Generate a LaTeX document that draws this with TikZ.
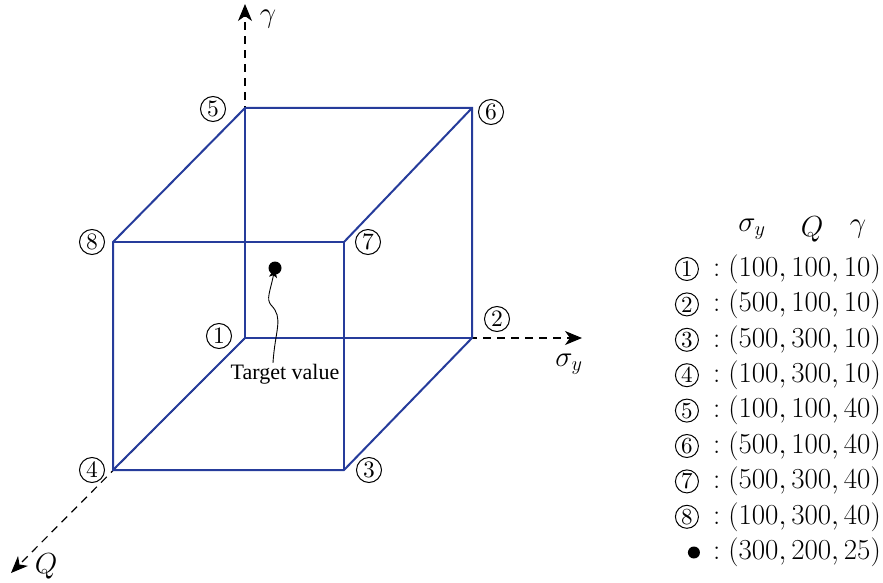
\RequirePackage{fix-cm}
\documentclass[tikz,border=0pt]{standalone}
\usepackage{fontspec}
\setmainfont{lmroman10-regular}[Extension=.otf]
\newfontfamily\timesf{Liberation Serif}
\usetikzlibrary{arrows.meta}
\definecolor{cubeblue}{RGB}{38,60,155}
\begin{document}
\begin{tikzpicture}[x=1pt,y=-1pt,
  edge/.style={cubeblue,line width=2pt,line join=miter},
  axis/.style={dash pattern=on 8pt off 6pt,line width=1.2pt,-{Stealth[length=17pt,width=14pt,inset=5pt]}},
  circ/.style={circle,draw,line width=1pt,inner sep=0pt,minimum size=25pt,font=\fontsize{23.5}{25}\selectfont},
  lbl/.style={inner sep=0pt,font=\fontsize{29}{33}\selectfont},
  rowtxt/.style={anchor=east,inner sep=0pt,font=\fontsize{29}{33}\selectfont},
]
\useasboundingbox (0,0) rectangle (883,583);
% cube corners
\coordinate (p1) at (245,338);
\coordinate (p2) at (472,338);
\coordinate (p3) at (344,470);
\coordinate (p4) at (113,470);
\coordinate (p5) at (245,108);
\coordinate (p6) at (472,108);
\coordinate (p7) at (344,242);
\coordinate (p8) at (113,242);
% axes
\coordinate (gax) at (245,4);
\coordinate (sax) at (582,338);
\coordinate (qax) at (11,573);
\draw[axis] (p1) -- (gax);
\draw[axis] (p1) -- (sax);
\draw[axis] (p1) -- (qax);
\node[lbl] (gl) at (268,19) {$\gamma$};
\node[lbl] (sl) at (569,364) {$\sigma_y$};
\node[lbl] (ql) at (46,566) {$Q$};
% cube edges
\draw[edge] (p4) -- (p3) -- (p2) -- (p6) -- (p5) -- (p8) -- cycle;
\draw[edge] (p8) -- (p7) -- (p3);
\draw[edge] (p7) -- (p6);
\draw[edge] (p1) -- (p2);
\draw[edge] (p1) -- (p5);
\draw[edge] (p1) -- (p4);
% corner labels
\node[circ] (c1) at (219,336) {1};
\node[circ] (c2) at (497,319) {2};
\node[circ] (c3) at (369,470) {3};
\node[circ] (c4) at (92,470) {4};
\node[circ] (c5) at (213,109) {5};
\node[circ] (c6) at (491,112) {6};
\node[circ] (c7) at (368,242) {7};
\node[circ] (c8) at (92,242) {8};
% target
\node[circle,fill,inner sep=0pt,minimum size=13pt] (tv) at (275,268) {};
\node[inner sep=1pt,font=\timesf\fontsize{22}{24}\selectfont] (tt) at (285,374) {Target value};
\coordinate (ts) at ([xshift=-12pt]tt.north);
\coordinate (tm) at (271,305);
\draw[line width=0.9pt,-{Stealth[length=10pt,width=8pt,inset=2.5pt]}] (ts) .. controls (275,330) and (284,318) .. (tm) .. controls (266,299) and (270,292) .. ([yshift=7pt]tv.south);
% table header
\node[lbl] (hs) at (752,229) {$\sigma_y$};
\node[lbl] (hq) at (812,229) {$Q$};
\node[lbl] (hg) at (858,229) {$\gamma$};
% table rows
\foreach \n/\v [count=\i] in {1/{100,100,10},2/{500,100,10},3/{500,300,10},4/{100,300,10},5/{100,100,40},6/{500,100,40},7/{500,300,40},8/{100,300,40}}{
  \node[rowtxt] (r\i) at (881,{269+35.4*(\i-1)}) {$:(\v)$};
  \node[circ,minimum size=23pt,font=\fontsize{23}{25}\selectfont] (rc\i) at ([xshift=-26pt]r\i.west) {\n};
}
\node[rowtxt] (r9) at (881,552.5) {$:(300,200,25)$};
\node[circle,fill,inner sep=0pt,minimum size=12pt] (rc9) at ([xshift=-19pt]r9.west) {};
\end{tikzpicture}
\end{document}
